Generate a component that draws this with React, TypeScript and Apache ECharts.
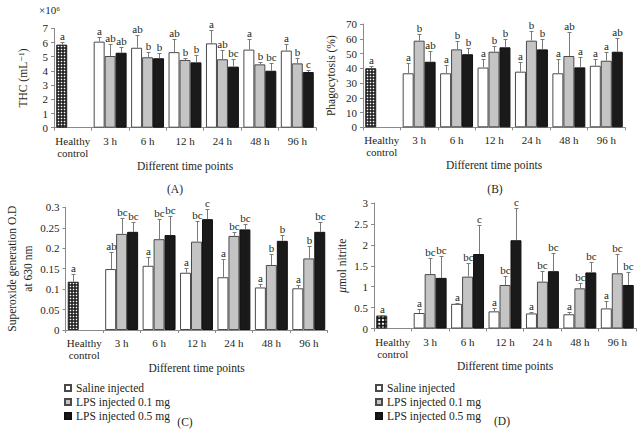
import React, { useEffect, useRef } from 'react';
import * as echarts from 'echarts';

// ---------- categories & legend ----------
const categories = ['Healthy\ncontrol', '3 h', '6 h', '12 h', '24 h', '48 h', '96 h'];
const groupNames = ['Saline injected', 'LPS injected 0.1 mg', 'LPS injected 0.5 mg'];

// ---------- (A) THC (x10^6 mL-1) ----------
const thcHealthy = [5.85];
const thcHealthyErr = [0.22];
const thcHealthyLetter = ['a'];
const thcSaline = [6.06, 5.63, 5.32, 5.94, 5.5, 5.43];
const thcSalineErr = [0.31, 0.87, 0.9, 0.95, 0.73, 0.45];
const thcLps01 = [5.05, 4.96, 4.77, 4.82, 4.46, 4.53];
const thcLps01Err = [0.82, 0.38, 0.12, 0.65, 0.2, 0.36];
const thcLps05 = [5.28, 4.89, 4.6, 4.3, 4.01, 3.92];
const thcLps05Err = [0.38, 0.35, 0.55, 0.52, 0.52, 0.15];
const thcSalineLetters = ['a', 'ab', 'ab', 'a', 'a', 'a'];
const thcLps01Letters = ['ab', 'b', 'b', 'ab', 'b', 'b'];
const thcLps05Letters = ['ab', 'b', 'b', 'bc', 'bc', 'c'];

// ---------- (B) Phagocytosis (%) ----------
const phaHealthy = [40];
const phaHealthyErr = [1.5];
const phaHealthyLetter = ['a'];
const phaSaline = [36.6, 36.6, 40.5, 37.7, 36.6, 41.7];
const phaSalineErr = [6.8, 5.6, 5.5, 6.7, 9.7, 4.3];
const phaLps01 = [58.7, 52.8, 51.2, 58.7, 48.3, 45.1];
const phaLps01Err = [4.3, 5.9, 3.8, 6.7, 16.1, 6.1];
const phaLps05 = [44.4, 49.5, 54.2, 52.8, 40.6, 51.2];
const phaLps05Err = [7.5, 4.4, 5.4, 6.8, 6.8, 9.5];
const phaSalineLetters = ['a', 'a', 'a', 'a', 'a', 'a'];
const phaLps01Letters = ['b', 'b', 'b', 'b', 'ab', 'a'];
const phaLps05Letters = ['ab', 'b', 'b', 'b', 'a', 'ab'];

// ---------- (C) Superoxide generation O.D at 630 nm ----------
const supHealthy = [0.118];
const supHealthyErr = [0.019];
const supHealthyLetter = ['a'];
const supSaline = [0.149, 0.157, 0.14, 0.129, 0.104, 0.102];
const supSalineErr = [0.041, 0.021, 0.011, 0.044, 0.008, 0.008];
const supLps01 = [0.235, 0.222, 0.216, 0.23, 0.159, 0.175];
const supLps01Err = [0.038, 0.049, 0.051, 0.01, 0.027, 0.031];
const supLps05 = [0.24, 0.232, 0.271, 0.246, 0.218, 0.24];
const supLps05Err = [0.025, 0.047, 0.024, 0.013, 0.014, 0.025];
const supSalineLetters = ['ab', 'a', 'a', 'a', 'a', 'a'];
const supLps01Letters = ['bc', 'bc', 'bc', 'bc', 'b', 'b'];
const supLps05Letters = ['bc', 'bc', 'c', 'bc', 'b', 'bc'];

// ---------- (D) umol nitrite ----------
const nitHealthy = [0.31];
const nitHealthyErr = [0.01];
const nitHealthyLetter = ['a'];
const nitSaline = [0.37, 0.59, 0.41, 0.36, 0.34, 0.48];
const nitSalineErr = [0.1, 0.03, 0.09, 0.04, 0.06, 0.17];
const nitLps01 = [1.3, 1.24, 1.04, 1.12, 0.96, 1.32];
const nitLps01Err = [0.38, 0.32, 0.21, 0.25, 0.12, 0.47];
const nitLps05 = [1.21, 1.78, 2.11, 1.37, 1.34, 1.04];
const nitLps05Err = [0.53, 0.69, 0.77, 0.43, 0.26, 0.3];
const nitSalineLetters = ['a', 'a', 'a', 'a', 'a', 'a'];
const nitLps01Letters = ['bc', 'bc', 'bc', 'bc', 'bc', 'bc'];
const nitLps05Letters = ['bc', 'c', 'c', 'bc', 'bc', 'bc'];

const panels = [
  {
    healthy: thcHealthy, healthyErr: thcHealthyErr, healthyLetter: thcHealthyLetter,
    values: [thcSaline, thcLps01, thcLps05], errors: [thcSalineErr, thcLps01Err, thcLps05Err],
    letters: [thcSalineLetters, thcLps01Letters, thcLps05Letters],
  },
  {
    healthy: phaHealthy, healthyErr: phaHealthyErr, healthyLetter: phaHealthyLetter,
    values: [phaSaline, phaLps01, phaLps05], errors: [phaSalineErr, phaLps01Err, phaLps05Err],
    letters: [phaSalineLetters, phaLps01Letters, phaLps05Letters],
  },
  {
    healthy: supHealthy, healthyErr: supHealthyErr, healthyLetter: supHealthyLetter,
    values: [supSaline, supLps01, supLps05], errors: [supSalineErr, supLps01Err, supLps05Err],
    letters: [supSalineLetters, supLps01Letters, supLps05Letters],
  },
  {
    healthy: nitHealthy, healthyErr: nitHealthyErr, healthyLetter: nitHealthyLetter,
    values: [nitSaline, nitLps01, nitLps05], errors: [nitSalineErr, nitLps01Err, nitLps05Err],
    letters: [nitSalineLetters, nitLps01Letters, nitLps05Letters],
  },
];

// ---------- layout / style ----------
const SERIF = '"Liberation Serif", "DejaVu Serif", serif';
const TEXT = '#231f20';
const AXIS = '#8a8a8a';
const EDGE = '#4a4a4a';
const ERR = '#7a7a7a';

const layout = [
  { left: 54, top: 28.3, width: 262, height: 99.4, max: 7, interval: 1, name: 'THC (mL⁻¹)', nameGap: 23, dot: [3, 1.6] },
  { left: 363, top: 24, width: 262, height: 103.3, max: 70, interval: 10, name: 'Phagocytosis (%)', nameGap: 24, dot: [3, 1.6] },
  { left: 65.5, top: 207.3, width: 262, height: 122.7, max: 0.3, interval: 0.05, name: 'Superoxide generation O.D\nat 630 nm', nameGap: 24, dot: [3, 1.6] },
  { left: 374, top: 203, width: 262, height: 125.5, max: 3, interval: 0.5, name: '{i|μ}mol nitrite', nameGap: 21, dot: [3.7, 2] },
];

function dotPattern(p: number, d: number) {
  const o = (p - d) / 2;
  const svg = `<svg xmlns="http://www.w3.org/2000/svg" width="${p}" height="${p}"><rect width="${p}" height="${p}" fill="#111"/><rect x="${o}" y="${o}" width="${d}" height="${d}" fill="#fff"/></svg>`;
  return {
    image: 'data:image/svg+xml;charset=utf-8,' + encodeURIComponent(svg),
    repeat: 'repeat',
    imageWidth: p,
    imageHeight: p,
  };
}

const fills = ['#ffffff', '#c4c4c4', '#1a1a1a'];
const GAP = 0.12;

function buildOption() {
  const grid: any[] = [];
  const xAxis: any[] = [];
  const yAxis: any[] = [];
  const series: any[] = [];

  layout.forEach((l, i) => {
    grid.push({ left: l.left, top: l.top, width: l.width, height: l.height });
    xAxis.push({
      type: 'category', gridIndex: i, data: categories, boundaryGap: true,
      axisLine: { lineStyle: { color: AXIS, width: 1 } },
      axisTick: { show: true, length: 3, lineStyle: { color: AXIS } },
      axisLabel: { color: TEXT, fontFamily: SERIF, fontSize: 11, lineHeight: 12, margin: 7, interval: 0 },
      name: 'Different time points', nameLocation: 'middle', nameGap: 31,
      nameTextStyle: { color: TEXT, fontFamily: SERIF, fontSize: 11.5 },
    });
    yAxis.push({
      type: 'value', gridIndex: i, min: 0, max: l.max, interval: l.interval,
      axisLine: { show: true, lineStyle: { color: AXIS, width: 1 } },
      axisTick: { show: true, length: 3, lineStyle: { color: AXIS } },
      splitLine: { show: false },
      axisLabel: { color: TEXT, fontFamily: SERIF, fontSize: 11, margin: 6 },
      name: l.name, nameLocation: 'middle', nameGap: l.nameGap, nameRotate: 90,
      nameTextStyle: {
        color: TEXT, fontFamily: SERIF, fontSize: 11.5, lineHeight: 16,
        rich: { i: { fontStyle: 'italic', color: TEXT, fontFamily: SERIF, fontSize: 11.5 } },
      },
    });

    const p = panels[i];
    series.push({
      type: 'bar', name: 'Healthy control', xAxisIndex: i, yAxisIndex: i, stack: 'w' + i,
      barCategoryGap: (GAP * 100) + '%', barGap: '0%',
      data: [p.healthy[0], null, null, null, null, null, null],
      itemStyle: { color: dotPattern(l.dot[0], l.dot[1]), borderColor: '#222', borderWidth: 1 },
    });
    for (let s = 0; s < 3; s++) {
      series.push({
        type: 'bar', name: groupNames[s], xAxisIndex: i, yAxisIndex: i,
        stack: s === 0 ? 'w' + i : undefined,
        barCategoryGap: (GAP * 100) + '%', barGap: '0%',
        data: [null, ...p.values[s]],
        itemStyle: { color: fills[s], borderColor: s === 2 ? '#111' : EDGE, borderWidth: 1 },
      });
    }
    const items: { cat: number; slot: number; v: number; e: number; t: string }[] = [];
    items.push({ cat: 0, slot: 0, v: p.healthy[0], e: p.healthyErr[0], t: p.healthyLetter[0] });
    for (let s = 0; s < 3; s++) {
      p.values[s].forEach((v, k) => {
        items.push({ cat: k + 1, slot: s, v, e: p.errors[s][k], t: p.letters[s][k] });
      });
    }
    series.push({
      type: 'custom', name: 'err' + i, xAxisIndex: i, yAxisIndex: i, z: 5,
      encode: { x: 0, y: [1, 2] },
      data: items.map((it) => [it.cat, it.v, it.v + it.e]),
      renderItem: (params: any, api: any) => {
        const it = items[params.dataIndex];
        const base = api.coord([it.cat, it.v]);
        const top = api.coord([it.cat, it.v + it.e]);
        const band = api.size([1, 0])[0];
        const bw = (band * (1 - GAP)) / 3;
        const x = Math.round(base[0] + (it.slot - 1) * bw) + 0.5;
        const yt = Math.round(top[1]) + 0.5;
        return {
          type: 'group',
          children: [
            { type: 'line', shape: { x1: x, y1: base[1], x2: x, y2: yt }, style: { stroke: ERR, lineWidth: 1 } },
            { type: 'line', shape: { x1: x - 2, y1: yt, x2: x + 2, y2: yt }, style: { stroke: ERR, lineWidth: 1 } },
            {
              type: 'text', x, y: yt - 1,
              style: { text: it.t, fill: TEXT, font: `11px ${SERIF}`, align: 'center', verticalAlign: 'bottom' },
            },
          ],
        };
      },
    });
  });

  const legendCommon = {
    orient: 'vertical', data: groupNames, icon: 'rect', itemWidth: 6, itemHeight: 6,
    itemGap: 2, selectedMode: false,
    textStyle: { color: TEXT, fontFamily: SERIF, fontSize: 11.5, lineHeight: 12 },
  };

  return {
    animation: false,
    backgroundColor: '#ffffff',
    grid, xAxis, yAxis, series,
    legend: [
      { ...legendCommon, left: 59, top: 377 },
      { ...legendCommon, left: 370, top: 377 },
    ],
    graphic: [
      { type: 'text', left: 39, top: 4, style: { text: '×10⁶', fill: TEXT, font: `11px ${SERIF}` } },
      { type: 'text', x: 175, y: 189, style: { text: '(A)', fill: TEXT, font: `11.5px ${SERIF}`, align: 'center', verticalAlign: 'middle' } },
      { type: 'text', x: 495, y: 189, style: { text: '(B)', fill: TEXT, font: `11.5px ${SERIF}`, align: 'center', verticalAlign: 'middle' } },
      { type: 'text', x: 185, y: 422, style: { text: '(C)', fill: TEXT, font: `11.5px ${SERIF}`, align: 'center', verticalAlign: 'middle' } },
      { type: 'text', x: 502, y: 421, style: { text: '(D)', fill: TEXT, font: `11.5px ${SERIF}`, align: 'center', verticalAlign: 'middle' } },
    ],
  };
}

export default function App() {
  const ref = useRef<HTMLDivElement>(null);
  useEffect(() => {
    document.body.style.margin = '0';
    if (!ref.current) return;
    const chart = echarts.init(ref.current, null, { renderer: 'svg' });
    chart.setOption(buildOption() as any);
    return () => chart.dispose();
  }, []);
  return <div ref={ref} style={{ width: 644, height: 441 }} />;
}
